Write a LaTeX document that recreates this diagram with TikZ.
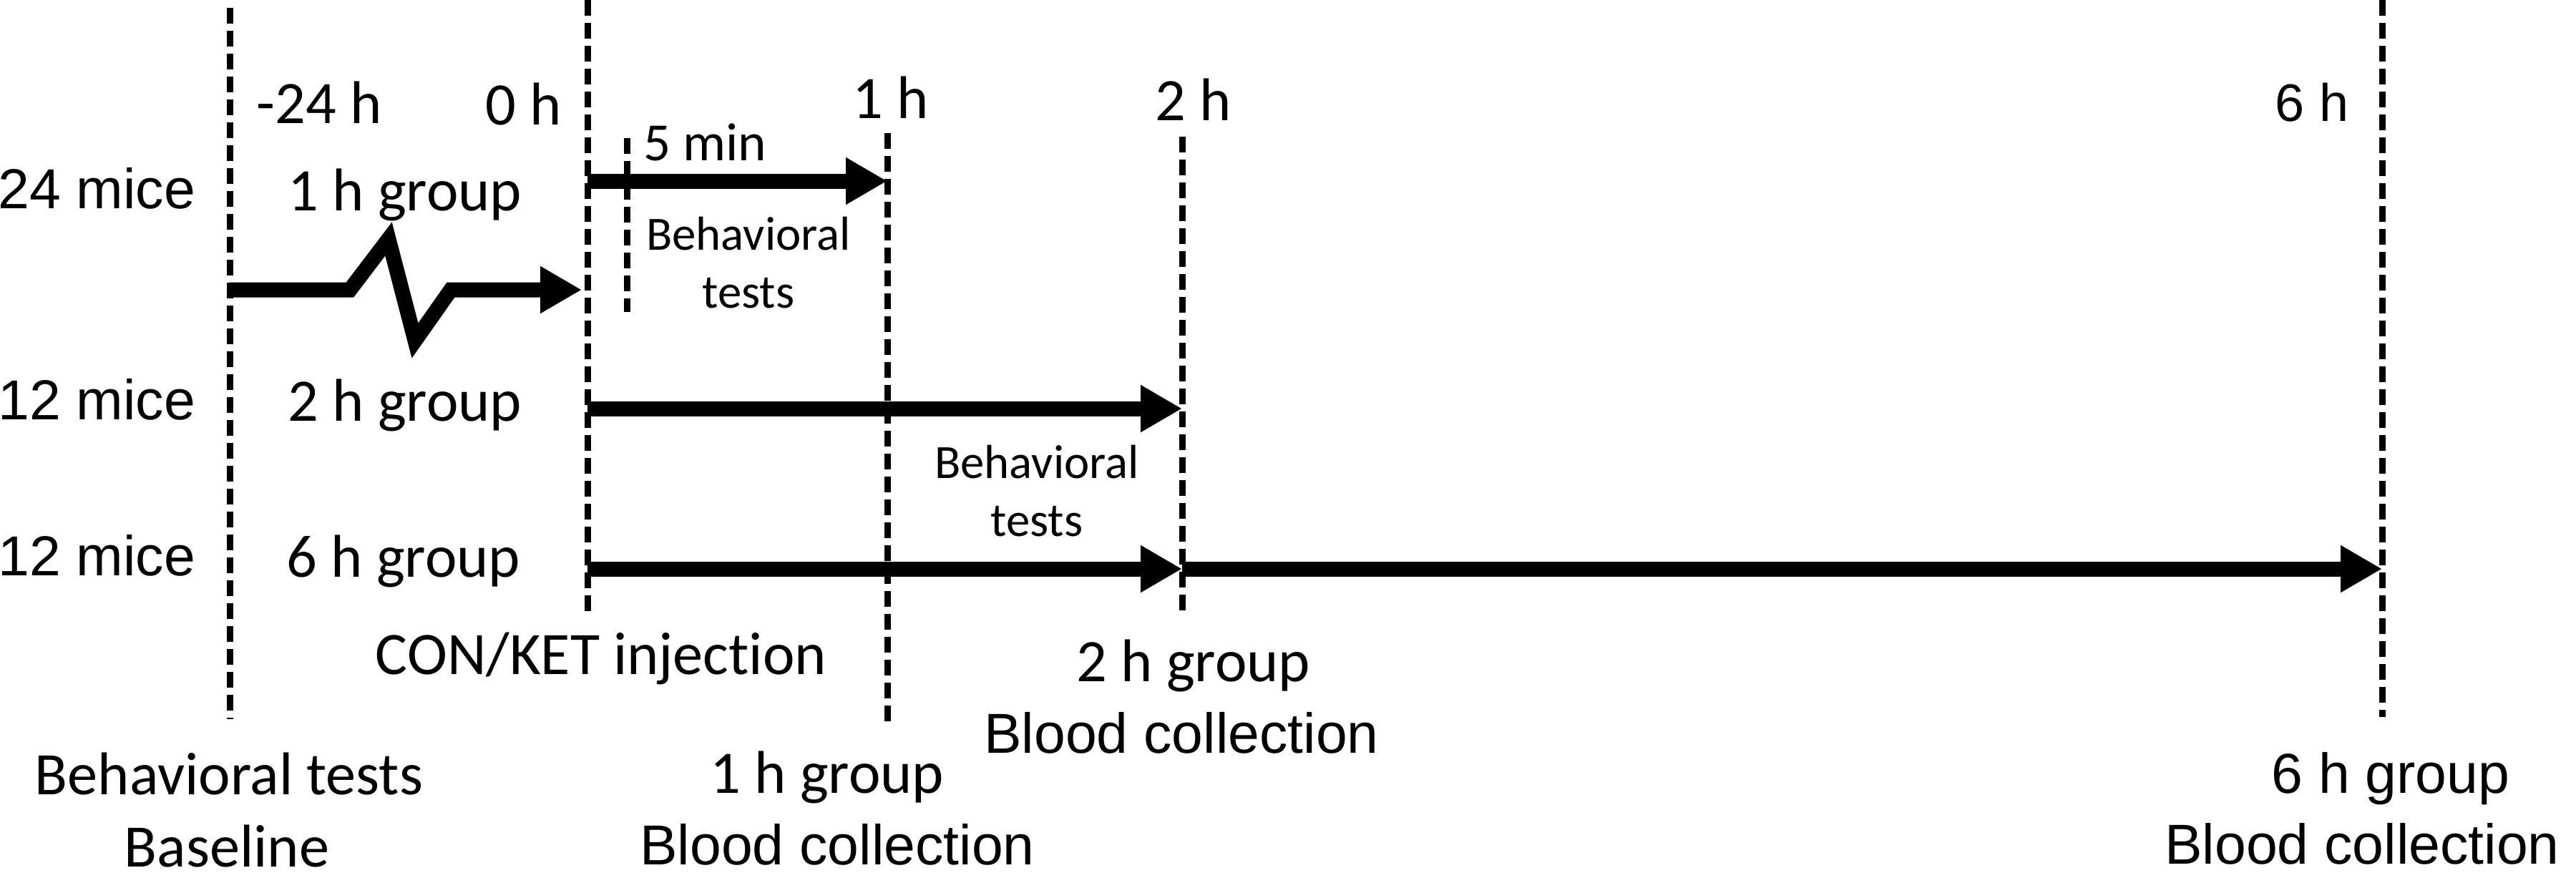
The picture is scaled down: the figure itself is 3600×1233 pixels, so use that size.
\documentclass[tikz,border=0pt]{standalone}
\usepackage{fontspec}
\setmainfont{Carlito}[Ligatures=NoCommon]
\newfontfamily\arialfont{Liberation Sans}
\usetikzlibrary{arrows.meta}

\def\arrowW{1.05mm}
\tikzset{
  timeline/.style={line width=0.45mm, dash pattern=on 1.1mm off 0.5mm},
  period/.style={line width=\arrowW, -{Triangle[length=2.9mm,width=3.1mm]}},
  calib/.style={font=\fontsize{12}{14}\selectfont, anchor=base, inner sep=0pt},
  arial/.style={font=\arialfont\fontsize{11.2}{13}\selectfont, anchor=base, inner sep=0pt},
  testnote/.style={font=\fontsize{9.5}{11.6}\selectfont, align=center, inner sep=0pt}
}

\begin{document}
\begin{tikzpicture}[x=0.05mm, y=-0.05mm]
    \useasboundingbox (0,0) rectangle (3600,1233);

    % time points and rows
    \coordinate (tm24) at (321,0);
    \coordinate (t0) at (821,0);
    \coordinate (t1) at (1240,0);
    \coordinate (t2) at (1652,0);
    \coordinate (t6) at (3329,0);
    \coordinate (r1) at (0,253);
    \coordinate (rz) at (0,405);
    \coordinate (r2) at (0,571);
    \coordinate (r6) at (0,795);

    \draw[timeline] (321,11) -- (321,1005);
    \draw[timeline] (821,0) -- (821,862);
    \draw[timeline] (876,193) -- (876,436);
    \draw[timeline] (1240,186) -- (1240,1014);
    \draw[timeline] (1652,191) -- (1652,862);
    \draw[timeline] (3329,0) -- (3329,1002);

    \draw[period] (tm24 |- rz) -- (489,405) -- (543,334) -- (580,476)
      -- (630,405) -- ([xshift=-0.4mm]t0 |- rz);
    \draw[period] (t0 |- r1) -- (t1 |- r1);
    \draw[period] (t0 |- r2) -- (t2 |- r2);
    \draw[period] (t0 |- r6) -- (t2 |- r6);
    \draw[period] (t2 |- r6) -- (t6 |- r6);

    \node[calib] (hm24) at (446,172) {-24 h};
    \node[calib] (h0) at (732,174) {0 h};
    \node[calib] (h1) at (1245,165) {1 h};
    \node[calib] (h2) at (1668,168) {2 h};
    \node[arial, font=\arialfont\fontsize{10.5}{12}\selectfont] (h6) at (3231,169) {6 h};
    \node[calib, font=\fontsize{10.7}{12}\selectfont] (min5) at (985,224) {5 min};

    \node[arial, anchor=base west] (m24) at (-4,291) {24 mice};
    \node[arial, anchor=base west] (m12a) at (-4,586) {12 mice};
    \node[arial, anchor=base west] (m12b) at (-4,804) {12 mice};

    \node[calib] (g1) at (566,294) {1 h group};
    \node[calib] (g2) at (566,588) {2 h group};
    \node[calib] (g6) at (564,806) {6 h group};

    \node[testnote] (bt1) at (1046,367) {Behavioral\\tests};
    \node[testnote] (bt2) at (1449,686) {Behavioral\\tests};

    \node[calib] (inj) at (840,942) {CON/KET injection};
    \node[calib] (bl1) at (320,1110) {Behavioral tests};
    \node[calib] (bl2) at (317,1211) {Baseline};
    \node[calib] (c1a) at (1156,1108) {1 h group};
    \node[arial] (c1b) at (1170,1208) {Blood collection};
    \node[calib] (c2a) at (1668,952) {2 h group};
    \node[arial] (c2b) at (1651,1052) {Blood collection};
    \node[arial] (c6a) at (3341,1108) {6 h group};
    \node[arial] (c6b) at (3301,1207) {Blood collection};
\end{tikzpicture}
\end{document}
